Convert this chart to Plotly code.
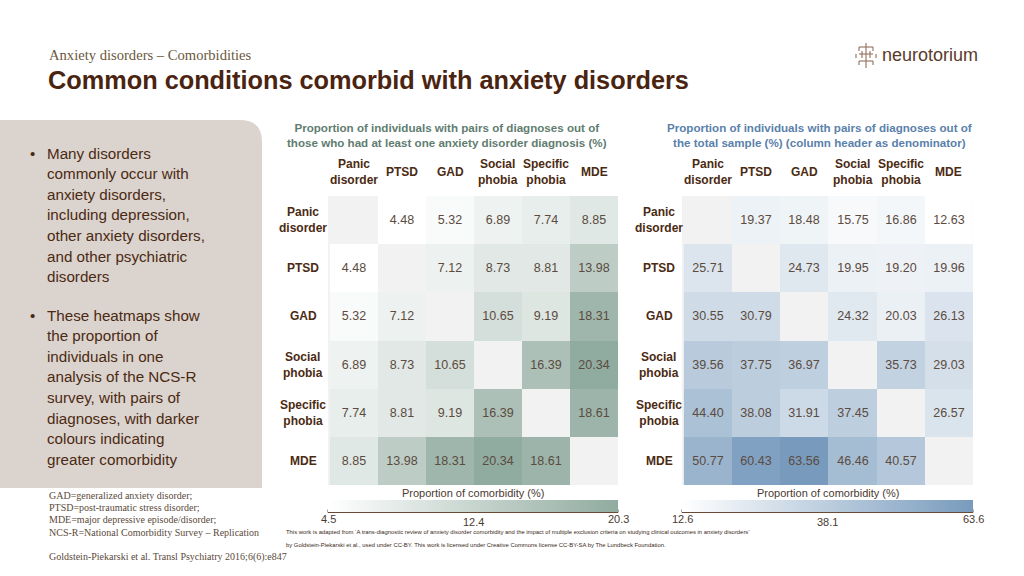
import plotly.graph_objects as go

W, H = 1024, 576
def X(px): return px / W
def Y(py): return 1 - py / H

# ---------------- data ----------------
diagnoses = ["Panic disorder", "PTSD", "GAD", "Social phobia", "Specific phobia", "MDE"]
header_labels = ["Panic<br>disorder", "PTSD", "GAD", "Social<br>phobia", "Specific<br>phobia", "MDE"]

# out of those with at least one anxiety disorder diagnosis (%)
anx_panic    = [None, 4.48, 5.32, 6.89, 7.74, 8.85]
anx_ptsd     = [4.48, None, 7.12, 8.73, 8.81, 13.98]
anx_gad      = [5.32, 7.12, None, 10.65, 9.19, 18.31]
anx_social   = [6.89, 8.73, 10.65, None, 16.39, 20.34]
anx_specific = [7.74, 8.81, 9.19, 16.39, None, 18.61]
anx_mde      = [8.85, 13.98, 18.31, 20.34, 18.61, None]

# out of the total sample (%) (column header as denominator)
tot_panic    = [None, 19.37, 18.48, 15.75, 16.86, 12.63]
tot_ptsd     = [25.71, None, 24.73, 19.95, 19.20, 19.96]
tot_gad      = [30.55, 30.79, None, 24.32, 20.03, 26.13]
tot_social   = [39.56, 37.75, 36.97, None, 35.73, 29.03]
tot_specific = [44.40, 38.08, 31.91, 37.45, None, 26.57]
tot_mde      = [50.77, 60.43, 63.56, 46.46, 40.57, None]

z_left = [anx_panic, anx_ptsd, anx_gad, anx_social, anx_specific, anx_mde]
z_right = [tot_panic, tot_ptsd, tot_gad, tot_social, tot_specific, tot_mde]

bullet1 = ["Many disorders", "commonly occur with", "anxiety disorders,",
           "including depression,", "other anxiety disorders,", "and other psychiatric", "disorders"]
bullet2 = ["These heatmaps show", "the proportion of", "individuals in one",
           "analysis of the NCS-R", "survey, with pairs of", "diagnoses, with darker",
           "colours indicating", "greater comorbidity"]
footnotes = ["GAD=generalized anxiety disorder;", "PTSD=post-traumatic stress disorder;",
             "MDE=major depressive episode/disorder;",
             "NCS-R=National Comorbidity Survey \u2013 Replication"]

BROWN = "#4b2a12"
CELLTXT = "#5b4b41"
AXC = "#6b4a33"

def fmt(m):
    return [["" if v is None else f"{v:.2f}" for v in row] for row in m]

def flat_range(m):
    vals = [v for row in m for v in row if v is not None]
    return min(vals), max(vals)

fig = go.Figure()

panels = [
    dict(z=z_left, xa="x", ya="y", x0=328, x1=618, lab_x=303,
         scale=[[0, "#ffffff"], [1, "#90ab9f"]],
         title="Proportion of individuals with pairs of diagnoses out of<br>those who had at least one anxiety disorder diagnosis (%)",
         tcol="#5f7d70", tx=447),
    dict(z=z_right, xa="x2", ya="y2", x0=682, x1=973, lab_x=659,
         scale=[[0, "#ffffff"], [1, "#789bbd"]],
         title="Proportion of individuals with pairs of diagnoses out of<br>the total sample (%) (column header as denominator)",
         tcol="#5a81ab", tx=819),
]

annotations = []
shapes = []
tfont = dict(family="Arial, Liberation Sans", size=11, color="#4a3a30")

for p in panels:
    zmin, zmax = flat_range(p["z"])
    mid = (zmin + zmax) / 2
    fig.add_trace(go.Heatmap(
        z=p["z"], x=diagnoses, y=diagnoses, xaxis=p["xa"], yaxis=p["ya"],
        text=fmt(p["z"]), texttemplate="%{text}",
        textfont=dict(family="Arial, Liberation Sans", size=12.5, color=CELLTXT),
        colorscale=p["scale"], zmin=zmin, zmax=zmax, hoverinfo="skip",
        colorbar=dict(
            orientation="h", x=X((p["x0"] + p["x1"]) / 2), xanchor="center",
            y=Y(500), yanchor="top", len=p["x1"] - p["x0"], lenmode="pixels",
            thickness=12, outlinewidth=0, xpad=0, ypad=0,
            showticklabels=False, ticks="",
        ),
    ))
    # axis line under colorbar with ticks
    shapes.append(dict(type="line", xref="paper", yref="paper",
                       x0=X(p["x0"]), x1=X(p["x1"]), y0=Y(512.5), y1=Y(512.5),
                       line=dict(color=AXC, width=1)))
    xm = (p["x0"] + p["x1"]) / 2
    for xt in (p["x0"], xm, p["x1"]):
        shapes.append(dict(type="line", xref="paper", yref="paper",
                           x0=X(xt), x1=X(xt), y0=Y(512.5), y1=Y(509.5),
                           line=dict(color=AXC, width=1)))
    # colorbar tick labels (values from data range)
    for xt, v, yy in ((p["x0"], zmin, 519), (xm, mid, 522), (p["x1"], zmax, 519)):
        annotations.append(dict(text=f"{v:.1f}", xref="paper", yref="paper", x=X(xt), y=Y(yy),
                                showarrow=False, xanchor="center", yanchor="middle", font=tfont))
    # colorbar title
    annotations.append(dict(text="Proportion of comorbidity (%)", xref="paper", yref="paper",
                            x=X(xm), y=Y(493), showarrow=False, xanchor="center", yanchor="middle",
                            font=tfont))
    # heatmap title
    annotations.append(dict(text="<b>" + p["title"] + "</b>", xref="paper", yref="paper",
                            x=X(p["tx"]), y=Y(134.5), showarrow=False, xanchor="center", yanchor="middle",
                            font=dict(family="Arial, Liberation Sans", size=11.6, color=p["tcol"])))
    # column headers
    for d, hl in zip(diagnoses, header_labels):
        annotations.append(dict(text="<b>" + hl + "</b>", xref=p["xa"], yref="paper",
                                x=d, y=Y(172), showarrow=False, xanchor="center", yanchor="middle",
                                font=dict(family="Arial, Liberation Sans", size=12, color=BROWN)))
    # row labels
    for d, hl in zip(diagnoses, header_labels):
        annotations.append(dict(text="<b>" + hl + "</b>", xref="paper", yref=p["ya"],
                                x=X(p["lab_x"]), y=d, showarrow=False, xanchor="center", yanchor="middle",
                                align="center",
                                font=dict(family="Arial, Liberation Sans", size=12, color=BROWN)))

ax_common = dict(showticklabels=False, showgrid=False, zeroline=False, ticks="", showline=False)
fig.update_layout(
    xaxis=dict(domain=[X(328), X(618)], anchor="y", **ax_common),
    yaxis=dict(domain=[Y(485), Y(196)], anchor="x", autorange="reversed", **ax_common),
    xaxis2=dict(domain=[X(682), X(973)], anchor="y2", **ax_common),
    yaxis2=dict(domain=[Y(485), Y(196)], anchor="x2", autorange="reversed", **ax_common),
)

# left panel rounded box
r = 22
shapes.insert(0, dict(type="path", xref="paper", yref="paper", layer="below",
                      path=f"M {X(-10)},{Y(120)} L {X(262 - r)},{Y(120)} Q {X(262)},{Y(120)} {X(262)},{Y(120 + r)} "
                           f"L {X(262)},{Y(488)} L {X(-10)},{Y(488)} Z",
                      fillcolor="#dbd3ce", line=dict(width=0)))

# bullets
def add_bullet(lines, y0):
    annotations.append(dict(text="\u2022", xref="paper", yref="paper", x=X(32), y=Y(y0),
                            showarrow=False, xanchor="center", yanchor="middle",
                            font=dict(family="Arial, Liberation Sans", size=15, color=BROWN)))
    for i, ln in enumerate(lines):
        annotations.append(dict(text=ln, xref="paper", yref="paper", x=X(45), y=Y(y0 + i * 20.6),
                                showarrow=False, xanchor="left", yanchor="middle",
                                font=dict(family="Arial, Liberation Sans", size=15.2, color=BROWN)))
add_bullet(bullet1, 153)
add_bullet(bullet2, 315)

# titles
annotations.append(dict(text="Anxiety disorders \u2013 Comorbidities", xref="paper", yref="paper",
                        x=X(47), y=Y(55), showarrow=False, xanchor="left", yanchor="middle",
                        font=dict(family="Liberation Serif, Times New Roman", size=14.6, color="#6b5840")))
annotations.append(dict(text="<b>Common conditions comorbid with anxiety disorders</b>", xref="paper", yref="paper",
                        x=X(46), y=Y(80), showarrow=False, xanchor="left", yanchor="middle",
                        font=dict(family="Arial, Liberation Sans", size=25.3, color="#4a2410")))

# footnotes
for i, t in enumerate(footnotes):
    annotations.append(dict(text=t, xref="paper", yref="paper", x=X(47), y=Y(495 + i * 12.4),
                            showarrow=False, xanchor="left", yanchor="middle",
                            font=dict(family="Liberation Serif, Times New Roman", size=10, color="#5a4a3a")))
annotations.append(dict(text="Goldstein-Piekarski et al. Transl Psychiatry 2016;6(6):e847", xref="paper", yref="paper",
                        x=X(47), y=Y(557), showarrow=False, xanchor="left", yanchor="middle",
                        font=dict(family="Liberation Serif, Times New Roman", size=10, color="#5a4a3a")))

credit1 = "This work is adapted from \u2018A trans-diagnostic review of anxiety disorder comorbidity and the impact of multiple exclusion criteria on studying clinical outcomes in anxiety disorders\u2019"
credit2 = "by Goldstein-Piekarski et al., used under CC-BY. This work is licensed under Creative Commons license CC-BY-SA by The Lundbeck Foundation."
for i, t in enumerate([credit1, credit2]):
    annotations.append(dict(text=t, xref="paper", yref="paper", x=X(284), y=Y(532 + i * 12.5),
                            showarrow=False, xanchor="left", yanchor="middle",
                            font=dict(family="Liberation Sans Narrow, Arial Narrow, Arial", size=5.9, color="#3a2a20")))

# logo
annotations.append(dict(text="neurotorium", xref="paper", yref="paper", x=X(880), y=Y(55),
                        showarrow=False, xanchor="left", yanchor="middle",
                        font=dict(family="Arial, Liberation Sans", size=18, color="#5a3a28")))
lc = dict(color="#9a7a66", width=1.2)
icon = [(866, 43, 866, 68), (859, 47, 873, 47), (859, 54, 873, 54), (859, 61, 873, 61),
        (859, 47, 859, 51), (873, 47, 873, 51), (859, 61, 859, 65), (873, 61, 873, 65),
        (862, 51, 862, 58), (870, 51, 870, 58), (856, 54, 856, 58), (876, 54, 876, 58)]
for (a, b, c, d) in icon:
    shapes.append(dict(type="line", xref="paper", yref="paper", x0=X(a), y0=Y(b), x1=X(c), y1=Y(d), line=lc))

fig.update_layout(
    width=W, height=H, margin=dict(l=0, r=0, t=0, b=0),
    paper_bgcolor="#ffffff", plot_bgcolor="#f2f2f2",
    showlegend=False, annotations=annotations, shapes=shapes,
)

fig.write_html("out.html", config={"displayModeBar": False},
               post_script="document.body.style.margin='0px';document.body.style.overflow='hidden';")
